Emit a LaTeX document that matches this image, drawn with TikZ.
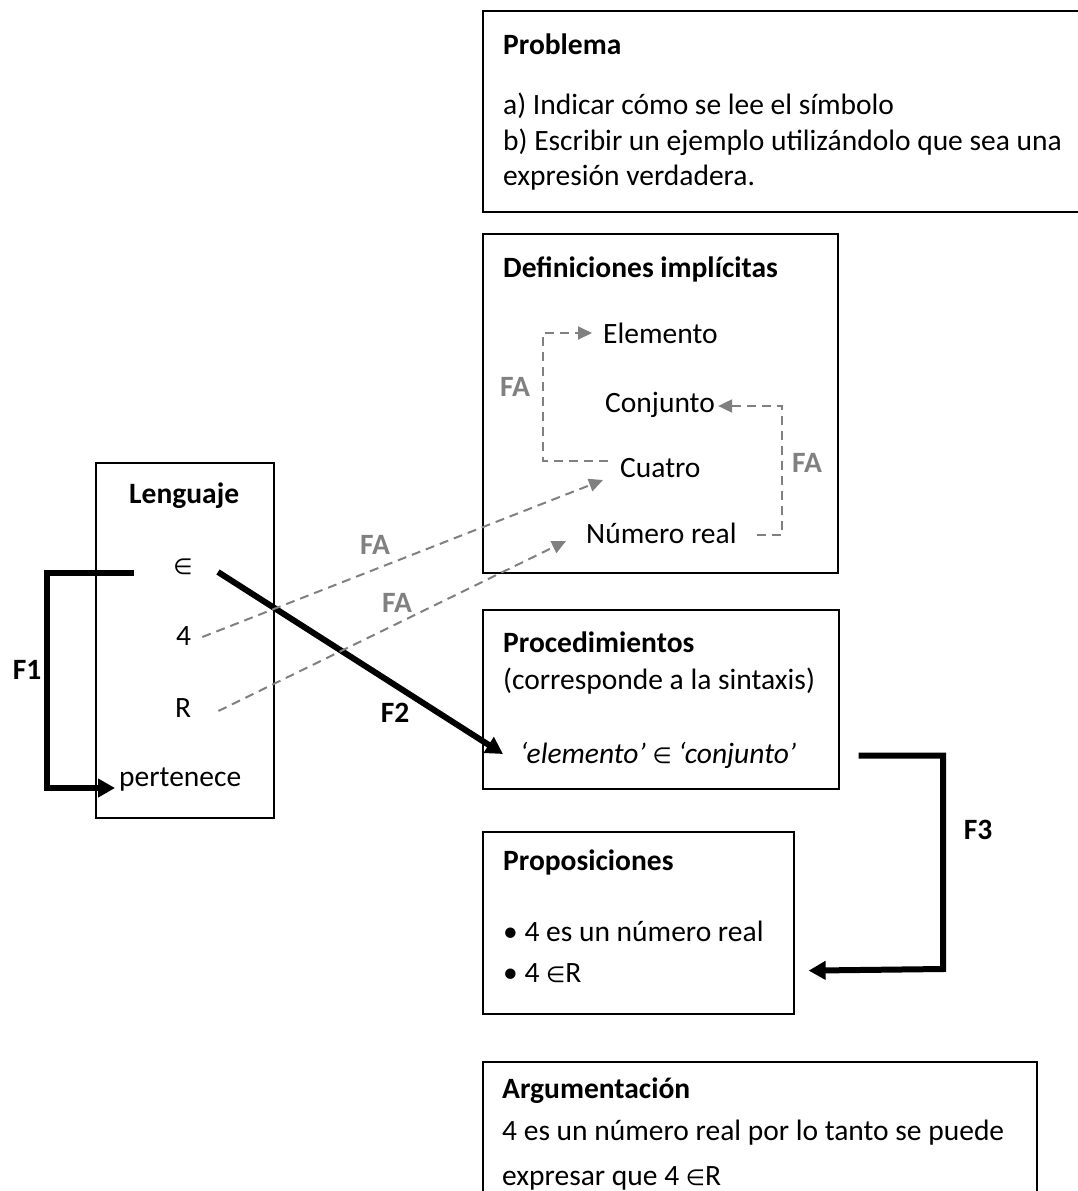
\documentclass[tikz,border=0pt]{standalone}
\usepackage{fontspec}
\setmainfont{Carlito}
\newfontfamily\symf{DejaVu Sans}
\usetikzlibrary{arrows.meta,calc}
\definecolor{fagray}{RGB}{128,128,128}
\newcommand\diagfs{\fontsize{29.5}{36}\selectfont}
\newcommand\elin{{\symf\fontsize{22}{22}\selectfont ∈}}
\begin{document}
\begin{tikzpicture}[x=1pt,y=-1pt,
  box/.style={draw=black,line width=1.6pt,rectangle,anchor=north west,inner sep=0pt},
  txt/.style={inner sep=0pt,anchor=base west,font=\diagfs},
  ttl/.style={inner sep=0pt,anchor=base west,font=\diagfs\bfseries},
  falab/.style={inner sep=0pt,font=\diagfs\bfseries,text=fagray},
  flab/.style={inner sep=0pt,font=\diagfs\bfseries},
  thickarrow/.style={draw=black,line width=6pt,line join=miter,-{Triangle[length=17pt,width=18pt]}},
  dasharrow/.style={draw=fagray,line width=2pt,dash pattern=on 9pt off 6pt,-{Triangle[length=14pt,width=13pt]}}
]
\useasboundingbox (0,0) rectangle (1077,1191);

% boxes
\node[box,minimum width=620pt,minimum height=201pt] (prob) at (482,10) {};
\node[box,minimum width=355pt,minimum height=339pt] (def) at (482,233) {};
\node[box,minimum width=178pt,minimum height=355pt] (len) at (95,462) {};
\node[box,minimum width=356pt,minimum height=179pt] (proc) at (482,609) {};
\node[box,minimum width=311pt,minimum height=182pt] (prop) at (482,831) {};
\node[box,minimum width=554pt,minimum height=200pt] (arg) at (482,1061) {};

% Problema
\node[ttl] (probT) at (503,54) {Problema};
\node[txt] (probA) at (503,114) {a) Indicar cómo se lee el símbolo};
\node[txt] (probB) at (503,150) {b) Escribir un ejemplo utilizándolo que sea una};
\node[txt] (probC) at (503,185) {expresión verdadera.};

% Definiciones
\node[ttl] (defT) at (503,277) {Definiciones implícitas};
\node[txt] (elem) at (603,343) {Elemento};
\node[txt] (conj) at (605,412) {Conjunto};
\node[txt] (cuat) at (620,477) {Cuatro};
\node[txt] (nreal) at (586,543) {Número real};

% Lenguaje
\node[ttl] (lenT) at (129,503) {Lenguaje};
\node[inner sep=0pt] (lin) at (183,567) {\elin};
\node[txt] (l4) at (176,645) {4};
\node[txt] (lR) at (175,717) {R};
\node[txt] (lpert) at (119,786) {pertenece};

% Procedimientos
\node[ttl] (procT) at (503,652) {Procedimientos};
\node[txt] (procS) at (503,689) {(corresponde a la sintaxis)};
\node[txt] (procE) at (520,763) {{\itshape ‘elemento’} \elin{} {\itshape ‘conjunto’}};

% Proposiciones
\node[ttl] (propT) at (503,870) {Proposiciones};
\node[txt] (propA) at (503,941) {\textbullet\ 4 es un número real};
\node[txt] (propB) at (503,982) {\textbullet\ 4 \elin R};

% Argumentacion
\node[ttl] (argT) at (502,1098) {Argumentación};
\node[txt] (argA) at (502,1140) {4 es un número real por lo tanto se puede};
\node[txt] (argB) at (502,1185) {expresar que 4 \elin R};

% labels
\node[flab] (lF1) at (27,670) {F1};
\node[flab] (lF2) at (395,713) {F2};
\node[flab] (lF3) at (978,830) {F3};
\node[falab] (fa1) at (375,545) {FA};
\node[falab] (fa2) at (397,603) {FA};
\node[falab] (fa3) at (515,387) {FA};
\node[falab] (fa4) at (807,463) {FA};

% corner coordinates
\coordinate (f1c) at (47,788);
\coordinate (f3c) at (943,969);
\coordinate (fac1) at (543,333);
\coordinate (fac2) at (782,406);

% thick connectors
\draw[thickarrow] ($(lin.center)+(-49,6)$) -| (f1c) -- ($(lpert.base west)+(-4,2)$);
\draw[thickarrow] ($(lin.center)+(35,5)$) -- ($(procE.base west)+(-17,-9)$);
\draw[thickarrow] ($(proc.south east)+(19,-34)$) -| (f3c) -- ($(prop.south east)+(14,-44)$);

% dashed connectors
\draw[dasharrow] ($(l4.base east)+(11,-8)$) -- ($(cuat.base west)+(-17,3)$);
\draw[dasharrow] ($(lR.base east)+(27,-6)$) -- ($(nreal.base west)+(-20,-2)$);
\draw[dasharrow] ($(cuat.base west)+(-12,-16)$) -| (fac1) -- ($(elem.base west)+(-11,-10)$);
\draw[dasharrow] ($(nreal.base east)+(20,-8)$) -| (fac2) -- ($(conj.base east)+(3,-6)$);
\end{tikzpicture}
\end{document}
